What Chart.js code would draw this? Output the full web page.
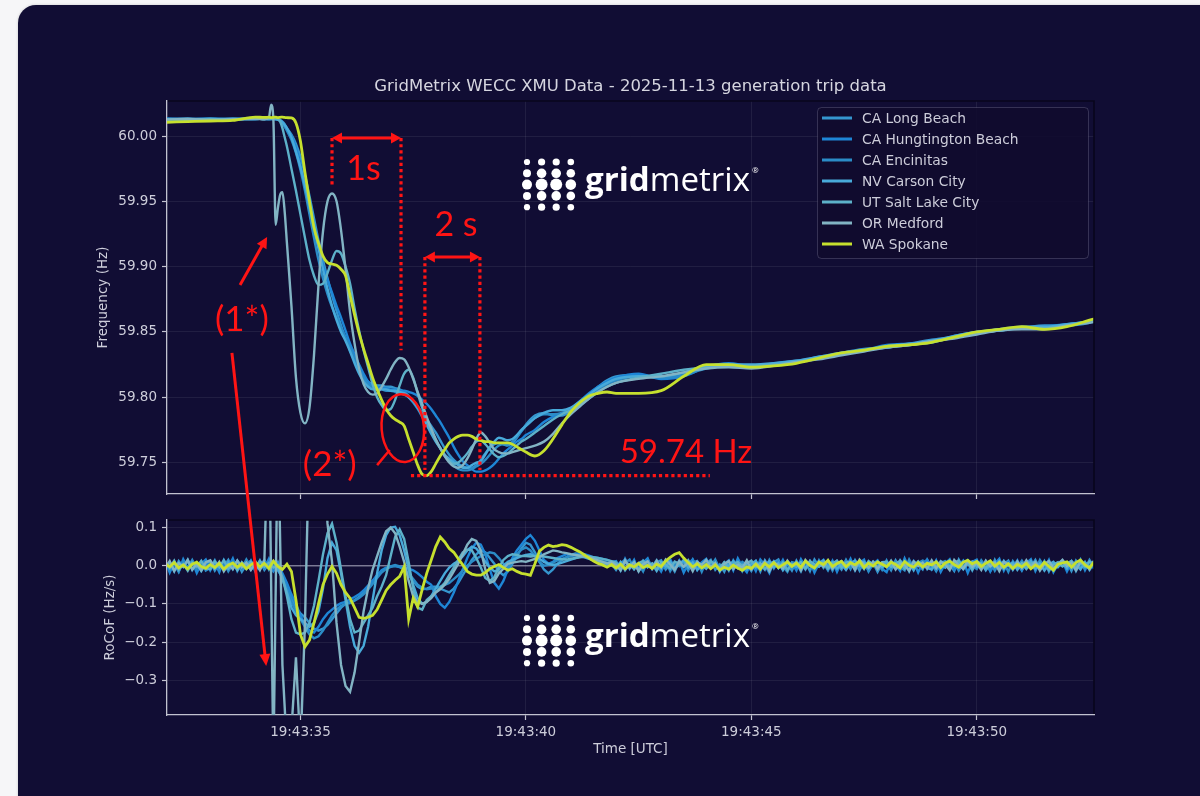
<!DOCTYPE html>
<html>
<head>
<meta charset="utf-8">
<script src="https://cdn.jsdelivr.net/npm/chart.js@4.4.1/dist/chart.umd.min.js"></script>
<style>
  html, body { margin: 0; padding: 0; width: 1200px; height: 796px; overflow: hidden; background: #f6f6f8; }
  #card { position: absolute; left: 18px; top: 5px; width: 1240px; height: 840px; border-radius: 18px; background: #110d34; box-shadow: 0 0 3px rgba(0,0,0,0.18); }
  canvas { position: absolute; left: 0; top: 0; }
</style>
</head>
<body>
<div id="card"></div>
<canvas id="freq" width="1200" height="796"></canvas>
<canvas id="rocof" width="1200" height="796"></canvas>
<canvas id="notes" width="1200" height="796"></canvas>
<script>
// ---------------- data ----------------
// Station names, in plotting order
const stations = ['CA Long Beach', 'CA Hungtington Beach', 'CA Encinitas', 'NV Carson City', 'UT Salt Lake City', 'OR Medford', 'WA Spokane'];

// Frequency samples: seconds after 19:43:00 UTC
const tFreq = [
  32.0, 32.5, 33.0, 33.5, 34.0, 34.2, 34.3, 34.35, 34.4, 34.45, 34.5, 34.55, 34.6, 34.65,
  34.7, 34.8, 34.9, 35.0, 35.1, 35.2, 35.3, 35.4, 35.5, 35.6,
  35.7, 35.8, 35.9, 36.0, 36.1, 36.2, 36.3, 36.4, 36.5, 36.6,
  36.7, 36.8, 36.9, 37.0, 37.1, 37.2, 37.3, 37.4, 37.5, 37.6,
  37.7, 37.8, 37.9, 38.0, 38.1, 38.2, 38.3, 38.4, 38.5, 38.6,
  38.7, 38.8, 38.9, 39.0, 39.1, 39.2, 39.3, 39.4, 39.5, 39.6,
  39.7, 39.8, 39.9, 40.0,
  40.2, 40.4, 40.6, 40.8, 41.0, 41.2, 41.4, 41.6, 41.8, 42.0,
  42.5, 43.0, 43.5, 44.0, 44.5, 45.0, 45.5, 46.0, 46.5, 47.0, 47.5, 48.0, 48.5, 49.0, 49.5, 50.0, 50.5, 51.0, 51.5, 52.0, 52.5, 52.7
];

// Frequency (Hz)
const freqLongBeach = [
  60.0126, 60.0132, 60.0128, 60.0134, 60.0129, 60.0133, 60.0127, 60.0131, 60.0128, 60.0132, 60.0127, 60.0122, 60.0110, 60.0090,
  60.006, 60.001, 59.994, 59.984, 59.970, 59.954, 59.937, 59.920, 59.905, 59.891,
  59.878, 59.866, 59.855, 59.845, 59.836, 59.828, 59.821, 59.816, 59.812, 59.810,
  59.809, 59.809, 59.808, 59.808, 59.807, 59.806, 59.804, 59.801, 59.797, 59.793,
  59.788, 59.783, 59.778, 59.773, 59.767, 59.761, 59.756, 59.752, 59.749, 59.747,
  59.746, 59.746, 59.748, 59.752, 59.757, 59.761, 59.764, 59.765, 59.764, 59.763,
  59.765, 59.769, 59.774, 59.779,
  59.786, 59.788, 59.786, 59.786, 59.790, 59.796, 59.802, 59.808, 59.813, 59.816,
  59.817, 59.815, 59.818, 59.824, 59.824, 59.823, 59.826, 59.828, 59.830, 59.834, 59.837, 59.838, 59.841, 59.844, 59.846, 59.849, 59.852, 59.853, 59.855, 59.855, 59.857, 59.859
];
const freqHuntington = [
  60.0135, 60.0129, 60.0134, 60.0127, 60.0133, 60.0129, 60.0134, 60.0130, 60.0132, 60.0128, 60.0126, 60.0118, 60.0100, 60.0075,
  60.005, 60.000, 59.991, 59.978, 59.961, 59.944, 59.929, 59.915, 59.901, 59.890,
  59.880, 59.870, 59.861, 59.851, 59.841, 59.833, 59.825, 59.818, 59.812, 59.809,
  59.808, 59.807, 59.807, 59.806, 59.806, 59.805, 59.805, 59.804, 59.803, 59.801,
  59.798, 59.795, 59.791, 59.786, 59.781, 59.775, 59.769, 59.762, 59.756, 59.751,
  59.748, 59.745, 59.743, 59.743, 59.744, 59.746, 59.749, 59.753, 59.757, 59.760,
  59.763, 59.766, 59.768, 59.771,
  59.775, 59.781, 59.785, 59.787, 59.791, 59.797, 59.803, 59.808, 59.812, 59.815,
  59.818, 59.814, 59.816, 59.823, 59.826, 59.824, 59.825, 59.827, 59.831, 59.833, 59.836, 59.840, 59.841, 59.842, 59.847, 59.850, 59.851, 59.853, 59.854, 59.856, 59.858, 59.860
];
const freqEncinitas = [
  60.0131, 60.0127, 60.0133, 60.0129, 60.0135, 60.0128, 60.0132, 60.0129, 60.0133, 60.0129, 60.0125, 60.0115, 60.0098, 60.0072,
  60.004, 59.997, 59.987, 59.974, 59.958, 59.940, 59.922, 59.905, 59.891, 59.879,
  59.869, 59.861, 59.853, 59.846, 59.838, 59.830, 59.822, 59.815, 59.810, 59.807,
  59.806, 59.806, 59.805, 59.805, 59.804, 59.803, 59.802, 59.800, 59.796, 59.791,
  59.785, 59.779, 59.773, 59.767, 59.761, 59.756, 59.752, 59.748, 59.745, 59.744,
  59.744, 59.745, 59.747, 59.749, 59.752, 59.756, 59.760, 59.763, 59.764, 59.764,
  59.766, 59.770, 59.774, 59.778,
  59.784, 59.787, 59.787, 59.788, 59.791, 59.796, 59.801, 59.806, 59.810, 59.813,
  59.816, 59.815, 59.817, 59.822, 59.824, 59.824, 59.825, 59.827, 59.830, 59.833, 59.836, 59.839, 59.840, 59.843, 59.846, 59.850, 59.851, 59.853, 59.853, 59.856, 59.858, 59.859
];
const freqCarson = [
  60.0128, 60.0133, 60.0126, 60.0131, 60.0128, 60.0134, 60.0130, 60.0131, 60.0129, 60.0130, 60.0126, 60.0120, 60.0105, 60.0085,
  60.006, 59.999, 59.988, 59.976, 59.962, 59.946, 59.930, 59.914, 59.898, 59.883,
  59.870, 59.859, 59.850, 59.843, 59.835, 59.826, 59.818, 59.812, 59.808, 59.806,
  59.806, 59.806, 59.806, 59.805, 59.805, 59.804, 59.803, 59.800, 59.797, 59.792,
  59.786, 59.779, 59.772, 59.766, 59.761, 59.756, 59.753, 59.750, 59.748, 59.746,
  59.746, 59.748, 59.750, 59.751, 59.756, 59.762, 59.766, 59.769, 59.768, 59.767,
  59.768, 59.771, 59.775, 59.778,
  59.784, 59.788, 59.790, 59.790, 59.792, 59.797, 59.802, 59.807, 59.811, 59.814,
  59.816, 59.816, 59.819, 59.824, 59.825, 59.825, 59.826, 59.828, 59.831, 59.834, 59.836, 59.839, 59.841, 59.843, 59.847, 59.850, 59.852, 59.854, 59.854, 59.856, 59.858, 59.860
];
const freqSaltLake = [
  60.0130, 60.0124, 60.0131, 60.0126, 60.0134, 60.0130, 60.0135, 60.0133, 60.0135, 60.0132, 60.0128, 60.0110, 60.0060, 59.9990,
  59.992, 59.975, 59.958, 59.940, 59.922, 59.905, 59.893, 59.886, 59.887, 59.895,
  59.905, 59.912, 59.910, 59.900, 59.887, 59.868, 59.851, 59.836, 59.823, 59.810,
  59.800, 59.794, 59.790, 59.791, 59.798, 59.809, 59.818, 59.821, 59.815, 59.803,
  59.792, 59.783, 59.775, 59.767, 59.761, 59.755, 59.751, 59.749, 59.750, 59.753,
  59.757, 59.762, 59.766, 59.767, 59.764, 59.760, 59.756, 59.754, 59.755, 59.757,
  59.760, 59.763, 59.766, 59.768,
  59.773, 59.778, 59.783, 59.787, 59.790, 59.794, 59.799, 59.804, 59.808, 59.811,
  59.815, 59.818, 59.821, 59.823, 59.824, 59.824, 59.825, 59.827, 59.830, 59.833, 59.836, 59.838, 59.840, 59.842, 59.846, 59.849, 59.851, 59.853, 59.853, 59.855, 59.858, 59.859
];
const freqMedford = [
  60.0125, 60.0130, 60.0122, 60.0128, 60.0132, 60.0128, 60.0140, 60.0240, 60.0120, 59.9320, 59.9450, 59.9550, 59.9570, 59.9420,
  59.918, 59.870, 59.815, 59.788, 59.780, 59.792, 59.832, 59.886, 59.927, 59.950,
  59.956, 59.950, 59.928, 59.898, 59.865, 59.841, 59.822, 59.810, 59.804, 59.802,
  59.803, 59.808, 59.814, 59.821, 59.827, 59.830, 59.829, 59.823, 59.814, 59.804,
  59.795, 59.785, 59.776, 59.768, 59.761, 59.755, 59.750, 59.747, 59.746, 59.748,
  59.753, 59.760, 59.768, 59.773, 59.770, 59.765, 59.760, 59.758, 59.757, 59.757,
  59.758, 59.759, 59.760, 59.761,
  59.763, 59.766, 59.772, 59.780, 59.787, 59.793, 59.799, 59.804, 59.808, 59.811,
  59.814, 59.816, 59.819, 59.822, 59.823, 59.822, 59.824, 59.827, 59.829, 59.832, 59.835, 59.838, 59.840, 59.843, 59.845, 59.848, 59.851, 59.852, 59.852, 59.855, 59.857, 59.858
];
const freqSpokane = [
  60.0105, 60.0110, 60.0115, 60.0120, 60.0145, 60.0142, 60.0144, 60.0141, 60.0143, 60.0145, 60.0141, 60.0143, 60.0145, 60.0142,
  60.0140, 60.0138, 60.0100, 59.9960, 59.9720, 59.9500, 59.9300, 59.9180, 59.9080, 59.9030,
  59.902, 59.901, 59.898, 59.893, 59.878, 59.863, 59.849, 59.837, 59.826, 59.815,
  59.806, 59.798, 59.791, 59.786, 59.783, 59.781, 59.778, 59.768, 59.758, 59.748,
  59.741, 59.740, 59.743, 59.749, 59.755, 59.760, 59.765, 59.768, 59.770, 59.771,
  59.771, 59.770, 59.768, 59.767, 59.766, 59.766, 59.765, 59.765, 59.765, 59.765,
  59.764, 59.762, 59.760, 59.758,
  59.755, 59.759, 59.768, 59.779, 59.789, 59.796, 59.801, 59.803, 59.804, 59.803,
  59.803, 59.805, 59.816, 59.825, 59.825, 59.823, 59.824, 59.826, 59.830, 59.834, 59.836, 59.839, 59.840, 59.842, 59.846, 59.850, 59.852, 59.854, 59.852, 59.854, 59.859, 59.861
];

// RoCoF is sampled every 0.1 s from 19:43:32.0; values in mHz/s
const ROCOF_START = 32.0;
const ROCOF_STEP = 0.1;
const rocofLongBeach = [
  -10,7,-15,12,-3,16,-11,8,-14,4,  11,-13,6,-2,15,-9,10,-16,3,13,
  -8,14,-11,5,-14,9,-25,-55,-85,-110,  -125,-135,-150,-165,-170,-165,-155,-140,-125,-110,
  -100,-95,-90,-82,-70,-55,-40,-25,-15,-8,  -3,-1,-4,-10,-25,-40,-55,-62,-60,-55,
  -55,-60,-65,-70,-60,-45,-25,-5,15,30,  40,35,20,5,-15,-25,-15,5,25,45,
  60,55,35,10,-10,-20,-10,5,15,22,  28,32,30,27,24,20,16,12,8,5,
  -11,6,15,-8,12,-14,3,17,-5,9,  14,-10,4,-15,11,8,-12,16,-3,-9,
  6,15,-11,3,-16,10,-2,13,-14,7,  -6,11,-15,14,-4,9,16,-10,5,-13,
  13,-7,9,-14,16,-2,7,-12,11,3,  -10,15,-6,10,-13,12,-1,8,-16,6,
  7,-12,14,-5,9,-15,12,2,-10,16,  -4,9,-13,11,3,-14,16,-7,10,-12,
  12,-5,8,-14,15,-9,4,13,-11,6,  -13,10,-4,15,-8,12,-15,7,-2,11,
  9,-14,13,-3,10,-11,6,-6
];
const rocofHuntington = [
  14,-18,9,-15,17,-6,12,-19,5,16,  -12,8,-17,15,-4,19,-14,6,-9,13,
  -16,11,-7,18,-13,4,-20,-45,-75,-100,  -130,-155,-170,-175,-160,-140,-125,-115,-105,-98,
  -95,-88,-82,-75,-65,-52,-40,-25,-12,-5,  -2,0,-3,-5,-8,-12,-20,-30,-42,-50,
  -80,-100,-110,-95,-70,-40,-10,20,45,60,  55,30,-10,-45,-60,-40,-10,20,40,55,
  70,80,65,40,15,5,10,20,25,30,  25,30,32,30,26,22,20,18,15,10,
  12,-10,18,-5,15,-14,8,19,-9,4,  -15,10,17,-6,13,-18,5,16,-11,9,
  18,-7,11,-16,4,14,-12,19,-3,-17,  9,-14,16,2,-19,11,-6,15,-10,7,
  -13,17,-4,12,-18,6,15,-9,13,-16,  10,-5,18,-12,7,16,-15,4,14,-8,
  -17,12,3,-14,19,-6,11,-18,8,15,  -9,14,-16,6,17,-11,2,13,-19,10,
  16,-8,12,-15,5,18,-13,9,-4,14,  -11,7,17,-14,10,-6,15,-17,4,12,
  -15,9,-5,16,-12,11,-8,14
];
const rocofEncinitas = [
  8,-11,4,-16,10,-5,15,-8,12,-13,  -6,14,-10,9,-15,4,11,-7,16,-4,
  12,-6,15,-10,7,-13,-30,-60,-95,-120,  -140,-160,-180,-190,-185,-170,-150,-130,-115,-105,
  -100,-98,-92,-85,-75,-62,-48,-32,-18,-8,  -2,2,-2,-8,-20,-35,-50,-58,-62,-60,
  -58,-55,-50,-45,-35,-25,-12,0,10,18,  25,30,35,32,20,5,-5,10,30,42,
  48,40,25,10,0,2,8,14,18,22,  25,27,26,24,21,18,14,10,7,4,
  10,-13,7,16,-9,5,-15,12,-2,14,  -8,13,-14,6,-1,15,-10,8,12,-16,
  11,-3,16,-9,7,-13,14,-5,10,2,  -14,8,3,-11,15,-7,12,-2,-16,9,
  6,-15,11,4,-10,14,-6,9,-13,12,  -2,13,-9,15,-5,8,-14,11,6,-11,
  14,-8,10,-3,-12,16,-5,7,13,-9,  4,-15,8,12,-6,10,-13,5,15,-1,
  -9,14,-2,11,-13,7,9,-16,12,-4,  13,-6,10,-11,15,-3,8,-12,6,14,
  -5,12,-14,7,-8,15,-3,10
];
const rocofCarson = [
  -4,9,-12,7,-2,11,-9,5,-13,8,  12,-7,3,-10,9,-5,14,-3,6,-11,
  7,-9,4,-2,12,-8,-35,-70,-110,-130,  -140,-150,-160,-150,-120,-60,20,60,40,-20,
  -90,-160,-210,-228,-210,-160,-90,-20,40,80,  100,102,80,40,-10,-50,-85,-100,-95,-80,
  -60,-40,-20,-5,5,12,25,40,50,45,  30,10,-5,-15,-10,0,10,15,20,25,
  28,30,25,18,10,5,2,4,8,12,  16,20,24,22,18,14,10,6,3,0,
  -5,10,-12,4,8,-9,13,-3,5,-14,  6,-2,11,-8,3,14,-5,9,-11,2,
  -7,10,4,-13,8,-1,12,-6,3,-10,  5,13,-8,2,11,-4,7,-12,9,1,
  -3,8,-10,12,-5,6,14,-2,9,-8,  4,-11,7,13,-1,10,-7,5,11,-4,
  9,2,-8,14,-3,7,-12,10,4,-6,  -10,12,1,-5,13,-2,8,-9,6,11,
  -3,7,-12,4,10,-6,13,-1,8,-11,  5,-2,12,-8,6,-13,3,10,-4,9,
  -7,11,3,-10,8,-2,12,6
];
const rocofSaltLake = [
  10,-6,13,-11,4,-13,8,-2,12,-7,  -9,11,-4,14,-8,6,-12,9,-3,10,
  -6,12,-3,8,-5,2,-30,-80,-140,-175,  -180,-175,-150,-105,-40,30,85,110,60,-10,
  -80,-140,-175,-170,-150,-130,-110,-80,-55,-25,  25,75,95,70,10,-60,-110,-115,-90,-80,
  -70,-58,-45,-25,-5,15,35,42,40,20,  -5,-32,-40,-30,-5,15,25,30,28,25,
  25,24,25,26,24,22,20,18,17,16,  18,20,22,24,24,22,20,18,15,12,
  8,-6,10,2,-9,7,12,-4,6,-10,  9,3,-7,11,5,-3,14,-6,8,1,
  -8,12,2,-5,9,-11,4,10,-2,6,  13,-4,7,-9,3,11,-6,8,-12,5,
  2,9,-7,12,4,-3,10,-8,6,13,  -5,8,11,-2,7,-9,12,3,-4,9,
  10,-3,6,12,-8,4,-1,11,-6,8,  3,-7,12,5,-2,9,13,-5,7,-10,
  11,4,-6,9,-3,12,-8,6,2,-5,  7,-9,5,10,-4,8,-11,3,9,-2,
  6,12,-5,8,-3,11,4,-7
];
const rocofMedford = [
  -8,12,-14,6,-3,15,-10,4,-12,9,  14,-6,10,-15,3,-9,13,-4,8,-11,
  6,-12,15,420,-520,380,-260,-480,-430,-240,  -480,-150,350,560,500,300,110,10,-150,-260,
  -315,-330,-280,-200,-120,-60,-10,25,60,90,  100,85,50,10,-40,-80,-95,-100,-95,-85,
  -70,-62,-50,-35,-15,5,30,55,70,65,  40,-10,-45,-40,-20,-8,5,8,10,12,
  10,14,18,22,30,35,40,38,35,33,  30,28,26,24,22,18,14,10,6,9,
  2,-12,14,-6,9,-15,4,11,-8,13,  -5,16,3,-11,12,-3,8,-14,10,2,
  15,-4,7,-13,5,12,-9,3,-6,14,  -10,6,-3,11,-14,8,2,-7,13,-2,
  9,-12,15,1,-6,10,-3,14,-8,5,  12,-2,8,-11,16,3,-5,10,-9,7,
  -4,13,-10,6,2,-13,11,-1,8,-7,  14,-6,9,3,-12,15,1,-8,12,-3,
  6,-11,13,-2,8,-14,10,4,-9,11,  -6,14,-3,9,-13,5,12,-7,3,15,
  -1,8,-12,10,4,-9,13,-5
];
const rocofSpokane = [
  5,-3,8,-6,2,-8,4,9,-2,-7,  3,-5,6,-9,1,7,-4,5,-8,2,
  9,-3,6,-7,12,-2,-10,4,-15,-90,  -180,-212,-195,-150,-100,-50,-22,-2,-20,-50,
  -70,-85,-110,-135,-138,-135,-130,-115,-90,-65,  -50,-38,-28,-3,-140,-85,-108,-62,-20,15,
  50,75,62,45,35,18,2,-15,-22,-25,  -25,-18,-8,-2,3,-5,-12,-8,-15,-20,
  -22,-25,5,38,48,54,50,52,55,53,  48,42,36,28,20,12,6,2,-4,3,
  -6,4,-8,2,-3,6,-5,1,-7,4,  -2,12,22,30,34,20,8,-3,5,-6,
  3,-8,2,-11,-4,-9,1,-6,-12,-3,  -7,4,-9,6,-3,8,-5,2,10,-2,
  7,-4,12,1,-6,9,3,14,-2,6,  11,-3,8,2,12,-5,7,-1,10,4,
  -2,9,3,-6,11,1,-4,8,-3,6,  2,10,-5,7,12,3,-4,9,14,5,
  11,-2,6,13,-1,8,-4,5,-7,3,  -3,6,-8,2,-5,9,-2,-12,4,7,
  10,-4,8,15,2,-6,9,12
];

// Axis tick values
const freqTicks = [59.75, 59.80, 59.85, 59.90, 59.95, 60.00];
const rocofTicks = [-0.3, -0.2, -0.1, 0.0, 0.1];
const timeTicks = [35, 40, 45, 50];
const LOW_FREQ = 59.74;

// ---------------- styling ----------------
const freqSeries = [freqLongBeach, freqHuntington, freqEncinitas, freqCarson, freqSaltLake, freqMedford, freqSpokane];
const rocofSeries = [rocofLongBeach, rocofHuntington, rocofEncinitas, rocofCarson, rocofSaltLake, rocofMedford, rocofSpokane];
const lineColors = ['#3596cf', '#1e86d6', '#2b8cc7', '#48aada', '#5db1c9', '#82b4c4', '#c6e02e'];
const lineWidths = [2.4, 2.4, 2.4, 2.4, 2.4, 2.4, 2.8];

const T_MIN = 32.04, T_MAX = 52.6;
const F_MIN = 59.7259, F_MAX = 60.0268;
const R_MIN = -0.391, R_MAX = 0.1196;

const TEXT = '#cdcdda';
const AXIS = '#c2c2d0';
const GRID = 'rgba(255,255,255,0.07)';
const SPINE_DARK = '#08061c';
const RED = '#ff1414';
const FONT_UI = '"DejaVu Sans", "Liberation Sans", sans-serif';
const FONT_NOTE = 'Lato, "Open Sans", sans-serif';

function timeLabel(v) { return '19:43:' + String(Math.round(v)).padStart(2, '0'); }
function minusSign(s) { return s.replace('-', '\u2212'); }

function timeAxis(showLabels) {
  return {
    type: 'linear', min: T_MIN, max: T_MAX,
    afterBuildTicks: s => { s.ticks = timeTicks.map(v => ({ value: v })); },
    ticks: { display: showLabels, callback: timeLabel, color: TEXT, font: { family: FONT_UI, size: 13.5 }, padding: 4, maxRotation: 0, autoSkip: false },
    grid: { color: GRID, lineWidth: 1, tickColor: AXIS, tickLength: 5, tickWidth: 1.2 },
    border: { color: AXIS, width: 1.3 },
    afterFit: s => { s.height = showLabels ? 30 : 0; }
  };
}

function valueAxis(min, max, ticks, digits) {
  return {
    min: min, max: max,
    afterBuildTicks: s => { s.ticks = ticks.map(v => ({ value: v })); },
    ticks: { callback: v => minusSign(v.toFixed(digits)), color: TEXT, font: { family: FONT_UI, size: 13.5 }, padding: 5 },
    grid: { color: GRID, lineWidth: 1, tickColor: AXIS, tickLength: 5, tickWidth: 1.2 },
    border: { color: AXIS, width: 1.3 },
    afterFit: s => { s.width = 167; }
  };
}

function darkSpines(chart) {
  const { ctx, chartArea: a } = chart;
  ctx.save();
  ctx.strokeStyle = SPINE_DARK;
  ctx.lineWidth = 1.6;
  ctx.beginPath();
  ctx.moveTo(a.left + 1, a.top);
  ctx.lineTo(a.right, a.top);
  ctx.lineTo(a.right, a.bottom - 1);
  ctx.stroke();
  ctx.restore();
}

function verticalText(ctx, text, x, y) {
  ctx.save();
  ctx.translate(x, y);
  ctx.rotate(-Math.PI / 2);
  ctx.textAlign = 'center';
  ctx.textBaseline = 'middle';
  ctx.fillText(text, 0, 0);
  ctx.restore();
}

// gridmetrix wordmark with its dot matrix
function drawLogo(ctx, left, top) {
  const colGap = 14.6, rowGap = 11.3;
  const radii = [
    [3.1, 3.6, 3.6, 3.3],
    [4.0, 4.8, 4.8, 4.3],
    [5.0, 6.0, 6.0, 5.3],
    [4.0, 4.8, 4.8, 4.3],
    [3.1, 3.6, 3.6, 3.3]
  ];
  ctx.save();
  ctx.fillStyle = '#ffffff';
  radii.forEach((row, r) => row.forEach((rad, c) => {
    ctx.beginPath();
    ctx.arc(left + c * colGap, top + r * rowGap, rad, 0, Math.PI * 2);
    ctx.fill();
  }));
  const textX = left + 58, base = top + 29;
  const size = 33;
  ctx.textBaseline = 'alphabetic';
  ctx.textAlign = 'left';
  ctx.font = `700 ${size}px "Open Sans", Lato, sans-serif`;
  const w1 = ctx.measureText('grid').width;
  ctx.font = `400 ${size}px "Open Sans", Lato, sans-serif`;
  const w2 = ctx.measureText('metrix').width;
  const sx = 165 / (w1 + w2);
  ctx.translate(textX, base);
  ctx.scale(sx, 1);
  ctx.font = `700 ${size}px "Open Sans", Lato, sans-serif`;
  ctx.fillText('grid', 0, 0);
  ctx.font = `400 ${size}px "Open Sans", Lato, sans-serif`;
  ctx.fillText('metrix', w1, 0);
  ctx.setTransform(1, 0, 0, 1, 0, 0);
  ctx.font = `400 8px "Open Sans", sans-serif`;
  ctx.fillText('\u00AE', textX + 165 + 2, base - 18);
  ctx.restore();
}

const freqDecor = {
  id: 'freqDecor',
  afterDraw(chart) {
    const { ctx, chartArea: a } = chart;
    darkSpines(chart);
    ctx.save();
    ctx.fillStyle = '#d6d6e0';
    ctx.font = `16.5px ${FONT_UI}`;
    ctx.textAlign = 'center';
    ctx.textBaseline = 'middle';
    ctx.fillText('GridMetrix WECC XMU Data - 2025-11-13 generation trip data', (a.left + a.right) / 2, 87);
    ctx.fillStyle = TEXT;
    ctx.font = `13.5px ${FONT_UI}`;
    verticalText(ctx, 'Frequency (Hz)', 103, (a.top + a.bottom) / 2);

    // legend
    const w = 271, h = 151, lx = a.right - 6 - w, ly = a.top + 6;
    ctx.beginPath();
    ctx.roundRect(lx + 0.5, ly + 0.5, w, h, 4);
    ctx.fillStyle = 'rgba(16,12,46,0.85)';
    ctx.fill();
    ctx.strokeStyle = 'rgba(190,190,220,0.22)';
    ctx.lineWidth = 1;
    ctx.stroke();
    ctx.font = `13.8px ${FONT_UI}`;
    ctx.textAlign = 'left';
    ctx.textBaseline = 'middle';
    stations.forEach((name, i) => {
      const cy = ly + 11 + i * 21;
      ctx.strokeStyle = lineColors[i];
      ctx.lineWidth = 3;
      ctx.beginPath();
      ctx.moveTo(lx + 5, cy);
      ctx.lineTo(lx + 35, cy);
      ctx.stroke();
      ctx.fillStyle = TEXT;
      ctx.fillText(name, lx + 45, cy + 1);
    });
    ctx.restore();
    drawLogo(ctx, 527, 162);
  }
};

const rocofDecor = {
  id: 'rocofDecor',
  beforeDatasetsDraw(chart) {
    const { ctx, chartArea: a, scales } = chart;
    const y0 = scales.y.getPixelForValue(0);
    ctx.save();
    ctx.strokeStyle = 'rgba(185,185,205,0.6)';
    ctx.lineWidth = 1.5;
    ctx.beginPath();
    ctx.moveTo(a.left, y0);
    ctx.lineTo(a.right, y0);
    ctx.stroke();
    ctx.restore();
  },
  afterDraw(chart) {
    const { ctx, chartArea: a } = chart;
    darkSpines(chart);
    ctx.save();
    ctx.fillStyle = TEXT;
    ctx.font = `13.5px ${FONT_UI}`;
    verticalText(ctx, 'RoCoF (Hz/s)', 110, (a.top + a.bottom) / 2);
    ctx.textAlign = 'center';
    ctx.textBaseline = 'middle';
    ctx.fillText('Time [UTC]', (a.left + a.right) / 2, 749);
    ctx.restore();
    drawLogo(ctx, 527, 618);
  }
};

function lineDatasets(series, toPoints, tension) {
  return series.map((vals, i) => ({
    label: stations[i],
    data: toPoints(vals),
    borderColor: lineColors[i],
    borderWidth: lineWidths[i],
    pointRadius: 0,
    fill: false,
    tension: tension,
    cubicInterpolationMode: tension ? 'monotone' : 'default',
    order: series.length - 1 - i
  }));
}

const baseOptions = {
  responsive: false,
  animation: false,
  devicePixelRatio: 1,
  events: [],
  plugins: { legend: { display: false }, tooltip: { enabled: false }, title: { display: false } }
};

const freqChart = new Chart(document.getElementById('freq'), {
  type: 'line',
  data: { datasets: lineDatasets(freqSeries, vals => vals.map((v, k) => ({ x: tFreq[k], y: v })), 0.4) },
  options: Object.assign({}, baseOptions, {
    layout: { padding: { left: 0, top: 101, right: 106, bottom: 302 } },
    scales: { x: timeAxis(false), y: valueAxis(F_MIN, F_MAX, freqTicks, 2) }
  }),
  plugins: [freqDecor]
});

const rocofChart = new Chart(document.getElementById('rocof'), {
  type: 'line',
  data: { datasets: lineDatasets(rocofSeries, vals => vals.map((v, k) => ({ x: ROCOF_START + k * ROCOF_STEP, y: v / 1000 })), 0) },
  options: Object.assign({}, baseOptions, {
    layout: { padding: { left: 0, top: 520, right: 106, bottom: 51 } },
    scales: { x: timeAxis(true), y: valueAxis(R_MIN, R_MAX, rocofTicks, 1) }
  }),
  plugins: [rocofDecor]
});

// ---------------- red event notes ----------------
(function drawNotes() {
  const ctx = document.getElementById('notes').getContext('2d');
  const fx = v => freqChart.scales.x.getPixelForValue(v);
  const fy = v => freqChart.scales.y.getPixelForValue(v);
  const ry = v => rocofChart.scales.y.getPixelForValue(v);

  ctx.strokeStyle = RED;
  ctx.fillStyle = RED;
  ctx.lineCap = 'butt';

  function dotted(x1, y1, x2, y2) {
    ctx.save();
    ctx.setLineDash([3.2, 3]);
    ctx.lineWidth = 3.2;
    ctx.beginPath();
    ctx.moveTo(x1, y1);
    ctx.lineTo(x2, y2);
    ctx.stroke();
    ctx.restore();
  }
  function head(x1, y1, x2, y2, len, half) {
    const ang = Math.atan2(y2 - y1, x2 - x1);
    ctx.beginPath();
    ctx.moveTo(x2, y2);
    ctx.lineTo(x2 - len * Math.cos(ang) + half * Math.sin(ang), y2 - len * Math.sin(ang) - half * Math.cos(ang));
    ctx.lineTo(x2 - len * Math.cos(ang) - half * Math.sin(ang), y2 - len * Math.sin(ang) + half * Math.cos(ang));
    ctx.closePath();
    ctx.fill();
  }
  function solid(x1, y1, x2, y2, w) {
    ctx.save();
    ctx.lineWidth = w;
    ctx.beginPath();
    ctx.moveTo(x1, y1);
    ctx.lineTo(x2, y2);
    ctx.stroke();
    ctx.restore();
  }
  function doubleArrow(x1, x2, y) {
    solid(x1 + 8, y, x2 - 8, y, 3);
    head(x2, y, x1, y, 10, 5.5);
    head(x1, y, x2, y, 10, 5.5);
  }
  function label(text, x, y, size, align) {
    ctx.font = `${size}px ${FONT_NOTE}`;
    ctx.textAlign = align || 'center';
    ctx.textBaseline = 'middle';
    ctx.fillText(text, x, y);
  }

  // 1 s span
  const a1 = fx(35.70), a2 = fx(37.23), ay = fy(59.9985);
  doubleArrow(a1, a2, ay);
  dotted(a1, ay, a1, fy(59.961));
  dotted(a2, ay, a2, fy(59.836));
  label('1s', fx(36.40), fy(59.975), 34);

  // 2 s span
  const b1 = fx(37.76), b2 = fx(38.98), by = fy(59.9074);
  doubleArrow(b1, b2, by);
  dotted(b1, by, b1, fy(59.7443));
  dotted(b2, by, b2, fy(59.7443));
  label('2 s', fx(38.45), fy(59.932), 34);

  // frequency nadir
  dotted(fx(37.45), fy(LOW_FREQ), fx(44.08), fy(LOW_FREQ));
  label(LOW_FREQ.toFixed(2) + ' Hz', fx(42.08), fy(59.7575), 33, 'left');

  // (1*) pointers
  label('(1*)', fx(33.70), fy(59.859), 35);
  const p1x = fx(33.66), p1y = fy(59.886), p2x = fx(34.26), p2y = fy(59.9227);
  solid(p1x, p1y, p2x - 4, p2y + 7, 3);
  head(p1x, p1y, p2x, p2y, 11, 5.5);
  const q1x = fx(33.48), q1y = fy(59.834), q2x = fx(34.24), q2y = ry(-0.2626);
  solid(q1x, q1y, q2x - 1, q2y - 9, 3);
  head(q1x, q1y, q2x, q2y, 12, 5.5);

  // (2*) marker around the kink
  label('(2*)', fx(35.65), fy(59.748), 35);
  const ex = fx(37.27), ey = fy(59.7764);
  const erx = fx(37.27 + 0.47) - ex, ery = fy(59.7764 - 0.026) - ey;
  ctx.save();
  ctx.lineWidth = 2.5;
  ctx.beginPath();
  ctx.ellipse(ex, ey, erx, ery, -0.08, 0, Math.PI * 2);
  ctx.stroke();
  ctx.restore();
  solid(fx(36.70), fy(59.748), fx(36.98), fy(59.7596), 2.5);
})();
</script>
</body>
</html>
